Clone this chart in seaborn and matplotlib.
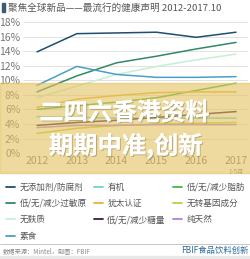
import matplotlib
matplotlib.use("Agg")
import matplotlib.pyplot as plt
import matplotlib.patches as mpatches
import matplotlib.patheffects as pe
from matplotlib.lines import Line2D
import seaborn as sns
import pandas as pd

sns.set_theme(style="white")
plt.rcParams['font.family'] = ['Noto Sans CJK SC', 'DejaVu Sans']

years = ['2012', '2013', '2014', '2015', '2016', '2017']
series_names = ['无添加剂/防腐剂', '有机', '低/无/减少脂肪', '低/无/减少过敏原', '犹太认证',
                '无转基因成分', '无麸质', '低/无/减少糖量', '纯天然', '素食']
no_additives = [13.9, 16.4, 16.5, 16.6, 15.9, 16.6]
organic = [5.0, 4.9, 4.8, 4.8, 4.8, 4.8]
low_fat = [6.0, 6.5, 7.0, 7.6, 8.6, 9.6]
low_allergen = [8.4, 10.6, 12.4, 13.3, 14.3, 15.2]
kosher = [6.3, 7.4, 7.9, 8.3, 8.4, 8.4]
non_gmo = [2.7, 3.4, 3.8, 4.0, 4.1, 4.2]
gluten_free = [7.6, 9.2, 10.8, 11.9, 12.8, 13.6]
low_sugar = [3.8, 4.2, 4.5, 4.9, 5.3, 5.7]
natural = [3.5, 3.8, 3.8, 3.9, 3.9, 3.9]
vegetarian = [9.3, 11.9, 10.8, 10.4, 10.4, 10.5]
series_values = [no_additives, organic, low_fat, low_allergen, kosher,
                 non_gmo, gluten_free, low_sugar, natural, vegetarian]
colors = ['#1f4e6e', '#6ed0d6', '#45b649', '#2f8a63', '#e9b43a',
          '#c9c93c', '#c5efd3', '#3b1a3d', '#b07ee0', '#4a9fc4']
y_ticks = [0, 2, 4, 6, 8, 10, 12, 14, 16, 18]

rows = []
for name, vals in zip(series_names, series_values):
    for y, v in zip(years, vals):
        rows.append({'year': y, 'value': v, 'claim': name})
df = pd.DataFrame(rows)
palette = dict(zip(series_names, colors))

fig = plt.figure(figsize=(2.51, 2.59), dpi=100)
fig.patch.set_facecolor('white')
ax = fig.add_axes([0.092, 0.409, 0.896, 0.506])
sns.lineplot(data=df, x='year', y='value', hue='claim', hue_order=series_names,
             palette=palette, linewidth=1.1, ax=ax, legend=True, sort=False)
ax.get_legend().remove()

ax.set_ylim(0, 18)
ax.set_xlim(-0.35, 5.3)
ax.set_yticks(y_ticks)
ax.set_yticklabels([f'{t}%' for t in y_ticks], fontsize=7.5, color='#777777')
ax.set_xticks(range(len(years)))
ax.set_xticklabels(years, fontsize=7.5, color='#777777')
ax.tick_params(axis='both', length=0, pad=2)
ax.set_xlabel('')
ax.set_ylabel('')
for s in ax.spines.values():
    s.set_visible(False)
ax.yaxis.grid(True, color='#dddddd', linewidth=0.6)
ax.set_axisbelow(True)
ax.text(5, -0.115, '1-5月', transform=ax.get_xaxis_transform(), ha='center', va='top',
        fontsize=4.5, color='#777777')

# title
fig.patches.append(mpatches.Rectangle((0.008, 0.952), 0.012, 0.036, transform=fig.transFigure,
                                      color='#3d5a73', zorder=5))
fig.text(0.03, 0.970, '聚焦全球新品——最流行的健康声明 2012-2017.10', fontsize=6.9,
         color='#555555', va='center', ha='left')

# legend (column-major order to read row-wise)
order = [0, 3, 6, 9, 1, 4, 7, 2, 5, 8]
lh = [Line2D([0], [0], color=colors[i], lw=1.3) for i in order]
ll = [series_names[i] for i in order]
fig.legend(lh, ll, loc='upper left', bbox_to_anchor=(-0.005, 0.325), ncol=3,
           frameon=False, fontsize=6.2, handlelength=1.0, handletextpad=0.5,
           columnspacing=0.9, labelspacing=0.85, labelcolor='#555555')

# footer
fig.add_artist(Line2D([0, 1], [0.058, 0.058], transform=fig.transFigure, color='#bbbbbb', lw=0.6))
fig.patches.append(mpatches.Rectangle((0, 0), 1, 0.012, transform=fig.transFigure,
                                      color='#e8e8e8', zorder=1))
fig.text(0.01, 0.032, '数据来源：Mintel，制图：FBIF', fontsize=4.5, color='#888888', va='center')
fig.text(0.99, 0.032, 'FBIF食品饮料创新', fontsize=6, color='#2a6a9a', va='center', ha='right')

# overlay banner
fig.patches.append(mpatches.Rectangle((0, 0.332), 1, 0.348, transform=fig.transFigure,
                                      color='#e3c25e', alpha=0.6, zorder=10))
shadow = [pe.withSimplePatchShadow(offset=(0.8, -0.8), shadow_rgbFace='#8a7a50', alpha=0.5), pe.Normal()]
t1 = fig.text(0.495, 0.563, '二四六香港资料', fontsize=17.5, fontweight='bold', color='white',
              ha='center', va='center', zorder=11)
t2 = fig.text(0.50, 0.437, '期期中准,创新', fontsize=17.5, fontweight='bold', color='white',
              ha='center', va='center', zorder=11)
t1.set_path_effects(shadow)
t2.set_path_effects(shadow)

fig.savefig('out.png', dpi=100, facecolor='white')
